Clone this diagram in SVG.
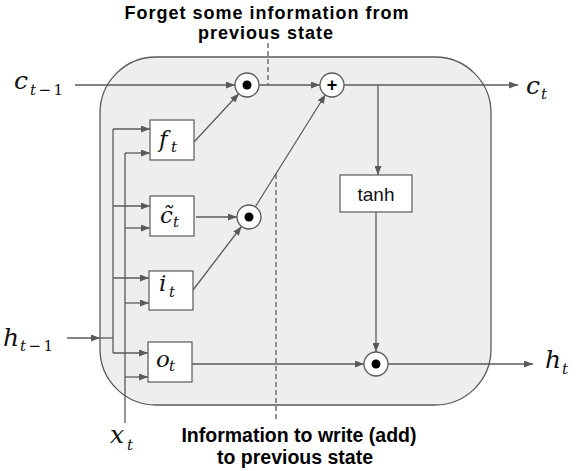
<svg xmlns="http://www.w3.org/2000/svg" width="577" height="471" viewBox="0 0 577 471">
<style>
.ln{stroke:#5a5a5a;stroke-width:1.3;fill:none}
.arr{marker-end:url(#ah)}
.dash{stroke:#5a5a5a;stroke-width:1.3;fill:none;stroke-dasharray:5 3}
.box{fill:#ffffff;stroke:#5a5a5a;stroke-width:1.2}
.op{fill:#ffffff;stroke:#5a5a5a;stroke-width:1.3}
.dot{fill:#000000}
.m{font-family:"DejaVu Serif","Liberation Serif",serif;font-style:italic;fill:#111111}
.big{font-size:23px}
.big2{font-size:25px}
.sub{font-size:15px}
.rm{font-style:normal}
.note{font-family:"Liberation Sans",Arial,sans-serif;font-weight:bold;fill:#000000;text-anchor:middle}
.tn{font-family:"Liberation Sans",Arial,sans-serif;font-size:19px;fill:#111111;text-anchor:middle}
</style>
<defs>
<marker id="ah" markerWidth="9" markerHeight="7" refX="9" refY="3.5" orient="auto" markerUnits="userSpaceOnUse">
<path d="M0,0 L9,3.5 L0,7 z" fill="#5a5a5a"/>
</marker>
</defs>

<g id="cell">
<rect x="100" y="57" width="391" height="348" rx="56" ry="56" fill="#eeeeee" stroke="#5a5a5a" stroke-width="1.3"/>
</g>

<g id="connectors">
<path class="ln arr" d="M75 85 L235 85"/>
<path class="ln arr" d="M194 142 L239 93.5"/>
<path class="ln arr" d="M196 217 L237 217"/>
<path class="ln arr" d="M193 290 L241.5 226.5"/>
<path class="ln arr" d="M255.5 206.5 L325.5 94.5"/>
<path class="ln arr" d="M259 85 L320 85"/>
<path class="ln arr" d="M344 85 L518 85"/>
<path class="ln arr" d="M378 85 L378 175"/>
<path class="ln arr" d="M376 212 L376 352"/>
<path class="ln arr" d="M192 364 L364 364"/>
<path class="ln arr" d="M388 364 L533 364"/>
<path class="ln arr" d="M67 338 L100 338"/>
<path class="ln" d="M100 338 L113 338"/>
<path class="ln" d="M113 129 L113 353"/>
<path class="ln arr" d="M113 129 L150 129"/>
<path class="ln arr" d="M113 206 L150 206"/>
<path class="ln arr" d="M113 278 L149 278"/>
<path class="ln arr" d="M113 353 L148 353"/>
<path class="ln" d="M125 153 L125 423"/>
<path class="ln arr" d="M125 153 L150 153"/>
<path class="ln arr" d="M125 228 L150 228"/>
<path class="ln arr" d="M125 303 L149 303"/>
<path class="ln arr" d="M125 377 L148 377"/>
<path class="dash" d="M268 43 L268 85"/>
<path class="dash" d="M276 174 L276 420"/>
</g>

<g id="f_gate">
<rect class="box" x="150" y="120" width="44" height="40"/>
<text class="m big" x="159" y="147">f</text>
<text class="m sub" x="171" y="152">t</text>
</g>
<g id="c_candidate">
<rect class="box" x="150" y="196" width="44" height="40"/>
<text class="m big" x="160" y="223">c̃</text>
<text class="m sub" x="173" y="227">t</text>
</g>
<g id="i_gate">
<rect class="box" x="149" y="271" width="44" height="39"/>
<text class="m big" x="159" y="291">i</text>
<text class="m sub" x="169" y="297">t</text>
</g>
<g id="o_gate">
<rect class="box" x="148" y="342" width="44" height="40"/>
<text class="m big" x="156" y="367">o</text>
<text class="m sub" x="169" y="371">t</text>
</g>
<g id="tanh">
<rect class="box" x="340" y="175" width="72" height="37"/>
<text class="tn" x="376" y="201">tanh</text>
</g>
<g id="mult_forget">
<circle class="op" cx="247" cy="85" r="12"/>
<circle class="dot" cx="247" cy="85" r="4.5"/>
</g>
<g id="mult_input">
<circle class="op" cx="249" cy="217" r="12"/>
<circle class="dot" cx="249" cy="217" r="4.5"/>
</g>
<g id="add">
<circle class="op" cx="332" cy="85" r="12"/>
<text x="332" y="91" font-family="Liberation Sans,Arial,sans-serif" font-weight="bold" font-size="18" text-anchor="middle" fill="#000">+</text>
</g>
<g id="mult_output">
<circle class="op" cx="376" cy="364" r="12"/>
<circle class="dot" cx="376" cy="364" r="4.5"/>
</g>

<g id="c_prev">
<text class="m big2" x="14" y="89">c</text>
<text class="m sub" x="30" y="95" letter-spacing="2.5">t<tspan class="rm">−1</tspan></text>
</g>
<g id="h_prev">
<text class="m big2" x="3" y="346">h</text>
<text class="m sub" x="20" y="351" letter-spacing="2.5">t<tspan class="rm">−1</tspan></text>
</g>
<g id="x_in">
<text class="m big2" x="110" y="443">x</text>
<text class="m sub" x="127" y="450">t</text>
</g>
<g id="c_out">
<text class="m big2" x="526" y="94">c</text>
<text class="m sub" x="541" y="99">t</text>
</g>
<g id="h_out">
<text class="m big2" x="545" y="368">h</text>
<text class="m sub" x="562" y="374">t</text>
</g>

<g id="note_forget">
<text class="note" x="267" y="19" font-size="18" letter-spacing="1">Forget some information from</text>
<text class="note" x="266" y="39" font-size="18" letter-spacing="1">previous state</text>
</g>
<g id="note_write">
<text class="note" x="299" y="442" font-size="19.5">Information to write (add)</text>
<text class="note" x="295" y="464" font-size="19.5">to previous state</text>
</g>
</svg>
